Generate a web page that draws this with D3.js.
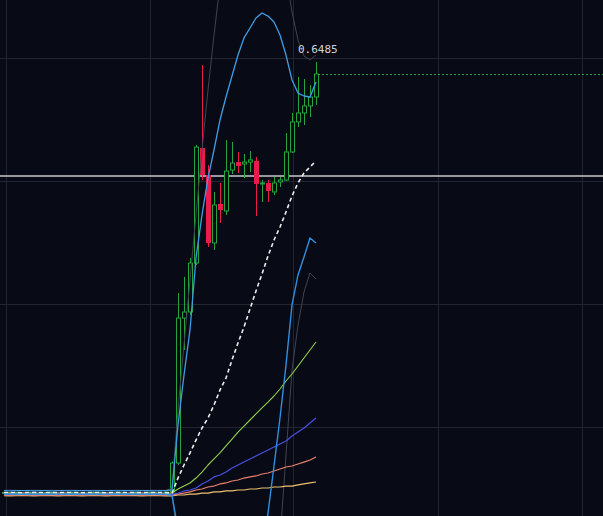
<!DOCTYPE html>
<html lang="en">
<head>
<meta charset="utf-8">
<style>
  html, body { margin: 0; padding: 0; background: #080b16; overflow: hidden; }
  svg { display: block; }
</style>
</head>
<body>
<script src="https://d3js.org/d3.v7.min.js"></script>
<script>
const width = 603, height = 516;

// candles, one per bar (bar index = position in array)
const open = [0.2966,0.2968,0.2967,0.2969,0.2966,0.2967,0.2968,0.2966,0.2967,0.2969,0.2968,0.2966,0.2967,0.2968,0.2967,0.2966,0.2968,0.2969,0.2967,0.2966,0.2968,0.2967,0.2966,0.2968,0.2967,0.2969,0.2967,0.2966,
  0.2972,0.3207,0.4386,0.4435,0.4833,0.5768,0.5549,0.4996,0.5313,0.5256,0.5589,0.5654,0.5638,0.5654,0.5663,0.5476,0.5484,0.5411,0.5492,0.5508,0.5736,0.5980,0.6053,0.6110,0.6183];
const high = [0.2971,0.2970,0.2971,0.2971,0.2969,0.2970,0.2970,0.2969,0.2971,0.2971,0.2970,0.2969,0.2970,0.2970,0.2969,0.2970,0.2971,0.2970,0.2969,0.2970,0.2970,0.2969,0.2970,0.2970,0.2971,0.2970,0.2969,0.2974,
  0.3220,0.4589,0.4720,0.4874,0.5793,0.6443,0.5630,0.5411,0.5484,0.5833,0.5817,0.5736,0.5720,0.5744,0.5695,0.5508,0.5508,0.5533,0.5533,0.5890,0.6053,0.6346,0.6329,0.6280,0.6467];
const low = [0.2964,0.2965,0.2965,0.2964,0.2964,0.2965,0.2964,0.2964,0.2965,0.2966,0.2964,0.2964,0.2965,0.2965,0.2964,0.2965,0.2966,0.2965,0.2964,0.2965,0.2965,0.2964,0.2965,0.2965,0.2966,0.2965,0.2964,0.2965,
  0.2963,0.3191,0.4126,0.4411,0.4817,0.5508,0.4963,0.4939,0.5159,0.5224,0.5557,0.5565,0.5524,0.5573,0.5215,0.5329,0.5329,0.5386,0.5451,0.5500,0.5728,0.5939,0.5955,0.6020,0.6118];
const close = [0.2968,0.2967,0.2969,0.2966,0.2967,0.2968,0.2966,0.2967,0.2969,0.2968,0.2966,0.2967,0.2968,0.2967,0.2966,0.2968,0.2969,0.2967,0.2966,0.2968,0.2967,0.2966,0.2968,0.2967,0.2969,0.2967,0.2966,0.2972,
  0.3207,0.4386,0.4435,0.4833,0.5776,0.5549,0.4996,0.5305,0.5264,0.5581,0.5646,0.5622,0.5654,0.5671,0.5476,0.5484,0.5419,0.5484,0.5508,0.5736,0.5980,0.6053,0.6110,0.6183,0.6370];

// indicator lines
const bbUpper = [0.2982,0.2981,0.2982,0.2983,0.2982,0.2981,0.2982,0.2982,0.2981,0.2983,0.2982,0.2981,0.2982,0.2983,0.2982,0.2981,0.2982,0.2983,0.2982,0.2981,0.2982,0.2982,0.2981,0.2983,0.2982,0.2981,0.2982,0.2983,
  0.2988,0.3516,0.3923,0.4289,0.4874,0.5224,0.5524,0.5752,0.5996,0.6183,0.6354,0.6524,0.6663,0.6744,0.6825,0.6866,0.6841,0.6793,0.6687,0.6524,0.6321,0.6215,0.6191,0.6183,0.6305];
const bbLower = [0.2953,0.2954,0.2953,0.2952,0.2953,0.2954,0.2953,0.2953,0.2954,0.2952,0.2953,0.2954,0.2953,0.2952,0.2953,0.2954,0.2953,0.2952,0.2953,0.2954,0.2953,0.2953,0.2954,0.2952,0.2953,0.2954,0.2953,0.2952,
  0.2947,0.2663,0.2378,0.2094,0.1809,0.1565,0.1362,0.1240,0.1183,0.1183,0.1240,0.1362,0.1524,0.1768,0.2094,0.2435,0.2801,0.3183,0.3573,0.4004,0.4492,0.4736,0.4882,0.5037,0.4996];
const outerUpper = [0.2985,0.2986,0.2985,0.2984,0.2985,0.2986,0.2985,0.2985,0.2986,0.2984,0.2985,0.2986,0.2985,0.2984,0.2985,0.2986,0.2985,0.2984,0.2985,0.2986,0.2985,0.2985,0.2986,0.2984,0.2985,0.2986,0.2985,0.2984,
  0.3004,0.3638,0.4167,0.4695,0.5224,0.5752,0.6240,0.6687,0.7093,0.7459,0.7744,0.7947,0.8069,0.8110,0.8069,0.7988,0.7866,0.7703,0.7459,0.7175,0.6874,0.6646,0.6516,0.6484,0.6524];
const outerLower = [0.2950,0.2949,0.2950,0.2951,0.2950,0.2949,0.2950,0.2950,0.2949,0.2951,0.2950,0.2949,0.2950,0.2951,0.2950,0.2949,0.2950,0.2951,0.2950,0.2949,0.2950,0.2950,0.2949,0.2951,0.2950,0.2949,0.2950,0.2951,
  0.2939,0.2581,0.2094,0.1606,0.1118,0.0711,0.0386,0.0142,-0.0020,-0.0102,-0.0102,-0.0020,0.0102,0.0305,0.0549,0.0874,0.1281,0.1850,0.2581,0.3272,0.3963,0.4329,0.4598,0.4752,0.4703];
const trendLine = [0.2967,0.2968,0.2967,0.2966,0.2967,0.2968,0.2967,0.2967,0.2968,0.2966,0.2967,0.2968,0.2967,0.2966,0.2967,0.2968,0.2967,0.2966,0.2967,0.2968,0.2967,0.2967,0.2968,0.2966,0.2967,0.2968,0.2967,0.2966,
  0.2963,0.3085,0.3191,0.3289,0.3394,0.3492,0.3573,0.3679,0.3801,0.3898,0.4045,0.4183,0.4313,0.4459,0.4606,0.4744,0.4890,0.5020,0.5126,0.5248,0.5378,0.5484,0.5565,0.5614,0.5663];
const maFast = [0.2964,0.2965,0.2964,0.2963,0.2964,0.2965,0.2964,0.2964,0.2965,0.2963,0.2964,0.2965,0.2964,0.2963,0.2964,0.2965,0.2964,0.2963,0.2964,0.2965,0.2964,0.2964,0.2965,0.2963,0.2964,0.2965,0.2964,0.2963,
  0.2963,0.2996,0.3020,0.3045,0.3085,0.3134,0.3191,0.3240,0.3289,0.3346,0.3402,0.3459,0.3508,0.3557,0.3606,0.3655,0.3703,0.3752,0.3809,0.3874,0.3931,0.3996,0.4061,0.4126,0.4191];
const maMid = [0.2958,0.2959,0.2958,0.2957,0.2958,0.2959,0.2958,0.2958,0.2959,0.2957,0.2958,0.2959,0.2958,0.2957,0.2958,0.2959,0.2958,0.2957,0.2958,0.2959,0.2958,0.2958,0.2959,0.2957,0.2958,0.2959,0.2958,0.2957,
  0.2955,0.2963,0.2980,0.2988,0.3004,0.3037,0.3061,0.3094,0.3110,0.3134,0.3167,0.3191,0.3215,0.3240,0.3264,0.3289,0.3313,0.3337,0.3362,0.3386,0.3427,0.3459,0.3492,0.3533,0.3573];
const maSlow = [0.2945,0.2944,0.2945,0.2946,0.2945,0.2944,0.2945,0.2945,0.2946,0.2944,0.2945,0.2946,0.2945,0.2944,0.2945,0.2946,0.2945,0.2944,0.2945,0.2946,0.2945,0.2945,0.2946,0.2944,0.2945,0.2946,0.2945,0.2946,
  0.2947,0.2955,0.2963,0.2972,0.2988,0.2996,0.3012,0.3020,0.3037,0.3045,0.3061,0.3069,0.3085,0.3094,0.3102,0.3118,0.3126,0.3142,0.3159,0.3175,0.3183,0.3199,0.3215,0.3232,0.3256];
const maLong = [0.2941,0.2940,0.2941,0.2942,0.2941,0.2940,0.2941,0.2941,0.2942,0.2940,0.2941,0.2942,0.2941,0.2940,0.2941,0.2942,0.2941,0.2940,0.2941,0.2942,0.2941,0.2941,0.2942,0.2940,0.2941,0.2942,0.2941,0.2940,
  0.2939,0.2947,0.2947,0.2955,0.2955,0.2963,0.2963,0.2972,0.2972,0.2980,0.2980,0.2988,0.2988,0.2996,0.2996,0.3004,0.3004,0.3012,0.3012,0.3020,0.3020,0.3029,0.3037,0.3045,0.3053];

const priceGrid = [0.65, 0.55, 0.45, 0.35];
const timeGrid = [0.33, 24.33, 48.17, 72.33, 96.33];
const hLinePrice = 0.5541;
const highLabel = "0.6485";
const highLabelPrice = 0.6485;

var x = d3.scaleLinear().domain([0, 52]).range([4, 316]);
var y = d3.scaleLinear().domain([0.35, 0.65]).range([427, 58]);

var svg = d3.select("body").append("svg")
    .attr("width", width)
    .attr("height", height)
    .style("background", "#080b16");

// grid
svg.append("g")
    .call(d3.axisLeft(y).tickValues(priceGrid).tickSize(-width).tickFormat(""));
svg.append("g")
    .attr("transform", "translate(0," + height + ")")
    .call(d3.axisBottom(x).tickValues(timeGrid).tickSize(-height).tickFormat(""));
svg.selectAll(".domain").remove();
svg.selectAll(".tick line").attr("stroke", "#222631").attr("stroke-width", 1);

// horizontal drawing line
svg.append("line")
    .attr("x1", 0).attr("x2", width)
    .attr("y1", y(hLinePrice)).attr("y2", y(hLinePrice))
    .attr("stroke", "#c8c9cd").attr("stroke-width", 1.6);

// candles
var green = "#25a33f", red = "#ea1a4c";
var idx = d3.range(open.length);
var candle = svg.append("g").selectAll("g").data(idx).enter().append("g");
candle.append("line")
    .attr("x1", function (i) { return Math.round(x(i)) + 0.5; })
    .attr("x2", function (i) { return Math.round(x(i)) + 0.5; })
    .attr("y1", function (i) { return y(high[i]); })
    .attr("y2", function (i) { return y(low[i]); })
    .attr("stroke", function (i) { return close[i] >= open[i] ? green : red; })
    .attr("stroke-width", 1);
candle.append("rect")
    .attr("x", function (i) { return close[i] >= open[i] ? Math.round(x(i)) - 1.5 : Math.round(x(i)) - 2; })
    .attr("width", function (i) { return close[i] >= open[i] ? 4 : 5; })
    .attr("y", function (i) { return y(Math.max(open[i], close[i])); })
    .attr("height", function (i) { return Math.max(1, Math.abs(y(open[i]) - y(close[i]))); })
    .attr("fill", function (i) { return close[i] >= open[i] ? "#080b16" : red; })
    .attr("stroke", function (i) { return close[i] >= open[i] ? green : "none"; })
    .attr("stroke-width", 1);

// indicator lines
var line = d3.line()
    .x(function (d, i) { return x(i); })
    .y(function (d) { return y(d); });

var series = [
    { data: outerUpper, color: "#41444d", w: 1, dash: null },
    { data: outerLower, color: "#41444d", w: 1, dash: null },
    { data: maLong, color: "#efc070", w: 1.2, dash: null },
    { data: maSlow, color: "#e9806c", w: 1.2, dash: null },
    { data: maMid, color: "#4a4fe2", w: 1.2, dash: null },
    { data: maFast, color: "#90d24e", w: 1.1, dash: null },
    { data: trendLine, color: "#ececec", w: 1.6, dash: "4,3" },
    { data: bbLower, color: "#2f8fe0", w: 1.4, dash: null },
    { data: bbUpper, color: "#3f9de6", w: 1.3, dash: null }
];
svg.append("g").selectAll("path").data(series).enter().append("path")
    .attr("d", function (s) { return line(s.data); })
    .attr("fill", "none")
    .attr("stroke", function (s) { return s.color; })
    .attr("stroke-width", function (s) { return s.w; })
    .attr("stroke-linejoin", "round")
    .attr("stroke-dasharray", function (s) { return s.dash; });

// last price line
var last = close.length - 1;
svg.append("line")
    .attr("x1", x(last) + 2).attr("x2", width)
    .attr("y1", Math.round(y(close[last])) + 0.5).attr("y2", Math.round(y(close[last])) + 0.5)
    .attr("stroke", green).attr("stroke-width", 1)
    .attr("stroke-dasharray", "2,2");

// high label
svg.append("text")
    .attr("x", x(last) - 18)
    .attr("y", y(highLabelPrice) - 7)
    .attr("fill", "#d4d4d8")
    .style("font-family", "DejaVu Sans Mono, monospace")
    .style("font-size", "11px")
    .text(highLabel);
</script>
</body>
</html>
